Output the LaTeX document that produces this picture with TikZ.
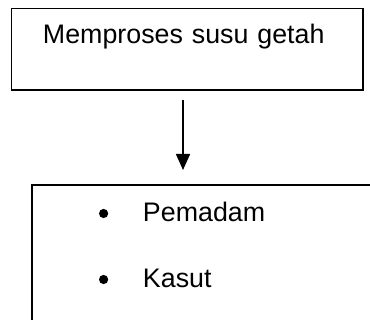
\documentclass[tikz,border=0pt]{standalone}
\usepackage{fontspec}
\setmainfont{Liberation Sans}
\usetikzlibrary{arrows.meta}

\newcommand{\titik}{\raisebox{3.9pt}{\tikz\fill (0,0) circle (4.6pt);}}

\begin{document}
\begin{tikzpicture}[x=1pt,y=-1pt,
  kotak/.style={draw=black, line width=1.5pt, inner sep=0pt, outer sep=0pt, align=left,
    font=\fontsize{26.8}{66}\selectfont},
  panah/.style={line width=1.5pt, -{Triangle[length=16pt,width=14pt]}}]
\useasboundingbox (0,0) rectangle (370,320);
\clip (0,0) rectangle (370,320);
\node[kotak, anchor=north west, text width=351.5pt, text height=35.5pt, text depth=46pt] (proses) at (11.7,8.5)
  {\hspace*{31.3pt}Memproses susu getah};
\node[kotak, anchor=north west, text width=380pt, text height=37pt, text depth=120pt] (hasil) at (32,185)
  {\hspace*{67pt}\makebox[44pt][l]{\titik}Pemadam\\
   \hspace*{67pt}\makebox[44pt][l]{\titik}Kasut};
\coordinate (mula) at (183,100);
\coordinate (hujung) at (183,170);
\draw[panah] (mula) -- (hujung);
\end{tikzpicture}
\end{document}
